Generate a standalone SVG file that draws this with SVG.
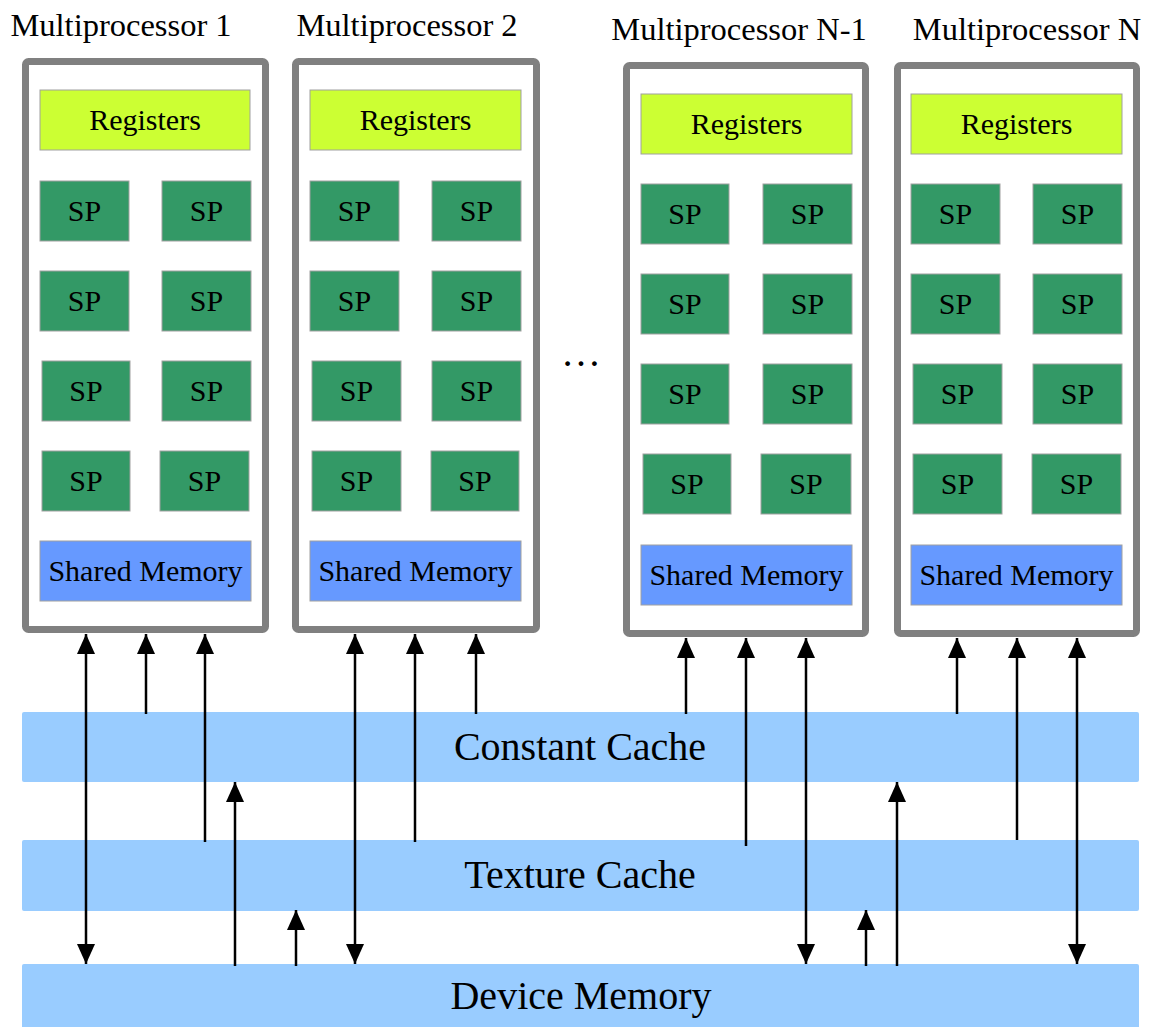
<svg xmlns="http://www.w3.org/2000/svg" width="1157" height="1027" viewBox="0 0 1157 1027">
<style>
text{fill:#000;text-anchor:middle}
.title{font-size:32.5px}
.lbl{font-size:30px}
.band-t{font-size:40px}
.mp{fill:#fff;stroke:#808080;stroke-width:7}
.reg{fill:#ccff33;stroke:#a0a0a0;stroke-width:1}
.sp{fill:#339966;stroke:#a0a0a0;stroke-width:1}
.sm{fill:#6699ff;stroke:#a0a0a0;stroke-width:1}
.band{fill:#99ccff}
.arr{stroke:#000;stroke-width:2.5;fill:none;marker-end:url(#ah)}
.dbl{marker-start:url(#ah)}
</style>
<defs>
<marker id="ah" viewBox="0 0 20 18" refX="20" refY="9" markerWidth="20" markerHeight="18" markerUnits="userSpaceOnUse" orient="auto-start-reverse">
<path d="M0,0 L20,9 L0,18 z" fill="#000"/>
</marker>
</defs>
<rect width="1157" height="1027" fill="#fff"/>
<g font-family="'Liberation Serif', 'Times New Roman', Times, serif">

<g id="mp1">
<text class="title" x="121" y="36">Multiprocessor 1</text>
<rect class="mp" x="25.5" y="61.5" width="240" height="568" rx="3"/>
<rect class="reg" x="40" y="90" width="210" height="60"/><text class="lbl" x="145" y="130">Registers</text>
<rect class="sp" x="40" y="181" width="89" height="60"/><text class="lbl" x="84.5" y="221">SP</text>
<rect class="sp" x="162" y="181" width="89" height="60"/><text class="lbl" x="206.5" y="221">SP</text>
<rect class="sp" x="40" y="271" width="89" height="60"/><text class="lbl" x="84.5" y="311">SP</text>
<rect class="sp" x="162" y="271" width="89" height="60"/><text class="lbl" x="206.5" y="311">SP</text>
<rect class="sp" x="42" y="361" width="88" height="60"/><text class="lbl" x="86" y="401">SP</text>
<rect class="sp" x="162" y="361" width="89" height="60"/><text class="lbl" x="206.5" y="401">SP</text>
<rect class="sp" x="42" y="451" width="88" height="60"/><text class="lbl" x="86" y="491">SP</text>
<rect class="sp" x="160" y="451" width="89" height="60"/><text class="lbl" x="204.5" y="491">SP</text>
<rect class="sm" x="40" y="541" width="211" height="60"/><text class="lbl" x="145.5" y="581">Shared Memory</text>
</g>

<g id="mp2">
<text class="title" x="407" y="36">Multiprocessor 2</text>
<rect class="mp" x="295.5" y="61.5" width="241" height="568" rx="3"/>
<rect class="reg" x="310" y="90" width="211" height="60"/><text class="lbl" x="415.5" y="130">Registers</text>
<rect class="sp" x="310" y="181" width="89" height="60"/><text class="lbl" x="354.5" y="221">SP</text>
<rect class="sp" x="432" y="181" width="89" height="60"/><text class="lbl" x="476.5" y="221">SP</text>
<rect class="sp" x="310" y="271" width="89" height="60"/><text class="lbl" x="354.5" y="311">SP</text>
<rect class="sp" x="432" y="271" width="89" height="60"/><text class="lbl" x="476.5" y="311">SP</text>
<rect class="sp" x="312" y="361" width="89" height="60"/><text class="lbl" x="356.5" y="401">SP</text>
<rect class="sp" x="432" y="361" width="89" height="60"/><text class="lbl" x="476.5" y="401">SP</text>
<rect class="sp" x="312" y="451" width="89" height="60"/><text class="lbl" x="356.5" y="491">SP</text>
<rect class="sp" x="431" y="451" width="88" height="60"/><text class="lbl" x="475" y="491">SP</text>
<rect class="sm" x="310" y="541" width="211" height="60"/><text class="lbl" x="415.5" y="581">Shared Memory</text>
</g>

<g id="ellipsis">
<text x="581" y="366" style="font-size:40px">…</text>
</g>

<g id="mpn1">
<text class="title" x="739" y="40">Multiprocessor N-1</text>
<rect class="mp" x="626.5" y="65.5" width="239" height="568" rx="3"/>
<rect class="reg" x="641" y="94" width="211" height="60"/><text class="lbl" x="746.5" y="134">Registers</text>
<rect class="sp" x="641" y="184" width="88" height="60"/><text class="lbl" x="685" y="224">SP</text>
<rect class="sp" x="763" y="184" width="89" height="60"/><text class="lbl" x="807.5" y="224">SP</text>
<rect class="sp" x="641" y="274" width="88" height="60"/><text class="lbl" x="685" y="314">SP</text>
<rect class="sp" x="763" y="274" width="89" height="60"/><text class="lbl" x="807.5" y="314">SP</text>
<rect class="sp" x="641" y="364" width="88" height="60"/><text class="lbl" x="685" y="404">SP</text>
<rect class="sp" x="763" y="364" width="89" height="60"/><text class="lbl" x="807.5" y="404">SP</text>
<rect class="sp" x="643" y="454" width="88" height="60"/><text class="lbl" x="687" y="494">SP</text>
<rect class="sp" x="761" y="454" width="90" height="60"/><text class="lbl" x="806" y="494">SP</text>
<rect class="sm" x="641" y="545" width="211" height="60"/><text class="lbl" x="746.5" y="585">Shared Memory</text>
</g>

<g id="mpn">
<text class="title" x="1027" y="40">Multiprocessor N</text>
<rect class="mp" x="897.5" y="65.5" width="239" height="568" rx="3"/>
<rect class="reg" x="911" y="94" width="211" height="60"/><text class="lbl" x="1016.5" y="134">Registers</text>
<rect class="sp" x="911" y="184" width="89" height="60"/><text class="lbl" x="955.5" y="224">SP</text>
<rect class="sp" x="1033" y="184" width="89" height="60"/><text class="lbl" x="1077.5" y="224">SP</text>
<rect class="sp" x="911" y="274" width="89" height="60"/><text class="lbl" x="955.5" y="314">SP</text>
<rect class="sp" x="1033" y="274" width="89" height="60"/><text class="lbl" x="1077.5" y="314">SP</text>
<rect class="sp" x="913" y="364" width="89" height="60"/><text class="lbl" x="957.5" y="404">SP</text>
<rect class="sp" x="1033" y="364" width="89" height="60"/><text class="lbl" x="1077.5" y="404">SP</text>
<rect class="sp" x="913" y="454" width="89" height="60"/><text class="lbl" x="957.5" y="494">SP</text>
<rect class="sp" x="1032" y="454" width="89" height="60"/><text class="lbl" x="1076.5" y="494">SP</text>
<rect class="sm" x="911" y="545" width="211" height="60"/><text class="lbl" x="1016.5" y="585">Shared Memory</text>
</g>

<g id="constant-cache">
<rect class="band" x="22" y="712" width="1117" height="70" rx="2"/>
<text class="band-t" x="580" y="760">Constant Cache</text>
</g>
<g id="texture-cache">
<rect class="band" x="22" y="840" width="1117" height="71" rx="2"/>
<text class="band-t" x="580" y="888">Texture Cache</text>
</g>
<g id="device-memory">
<rect class="band" x="22" y="964" width="1117" height="70" rx="2"/>
<text class="band-t" x="581" y="1009">Device Memory</text>
</g>
</g>

<g id="connectors">
<line class="arr dbl" x1="86" y1="634" x2="86" y2="964"/>
<line class="arr" x1="146" y1="714" x2="146" y2="634"/>
<line class="arr" x1="205" y1="842" x2="205" y2="634"/>
<line class="arr" x1="235" y1="966" x2="235" y2="782"/>
<line class="arr" x1="296" y1="966" x2="296" y2="910"/>
<line class="arr dbl" x1="355" y1="634" x2="355" y2="964"/>
<line class="arr" x1="415" y1="842" x2="415" y2="634"/>
<line class="arr" x1="476" y1="714" x2="476" y2="634"/>
<line class="arr" x1="686" y1="714" x2="686" y2="638"/>
<line class="arr" x1="746" y1="846" x2="746" y2="638"/>
<line class="arr dbl" x1="806" y1="638" x2="806" y2="964"/>
<line class="arr" x1="866" y1="966" x2="866" y2="910"/>
<line class="arr" x1="897" y1="966" x2="897" y2="782"/>
<line class="arr" x1="957" y1="714" x2="957" y2="638"/>
<line class="arr" x1="1017" y1="840" x2="1017" y2="638"/>
<line class="arr dbl" x1="1077" y1="638" x2="1077" y2="964"/>
</g>
</svg>
